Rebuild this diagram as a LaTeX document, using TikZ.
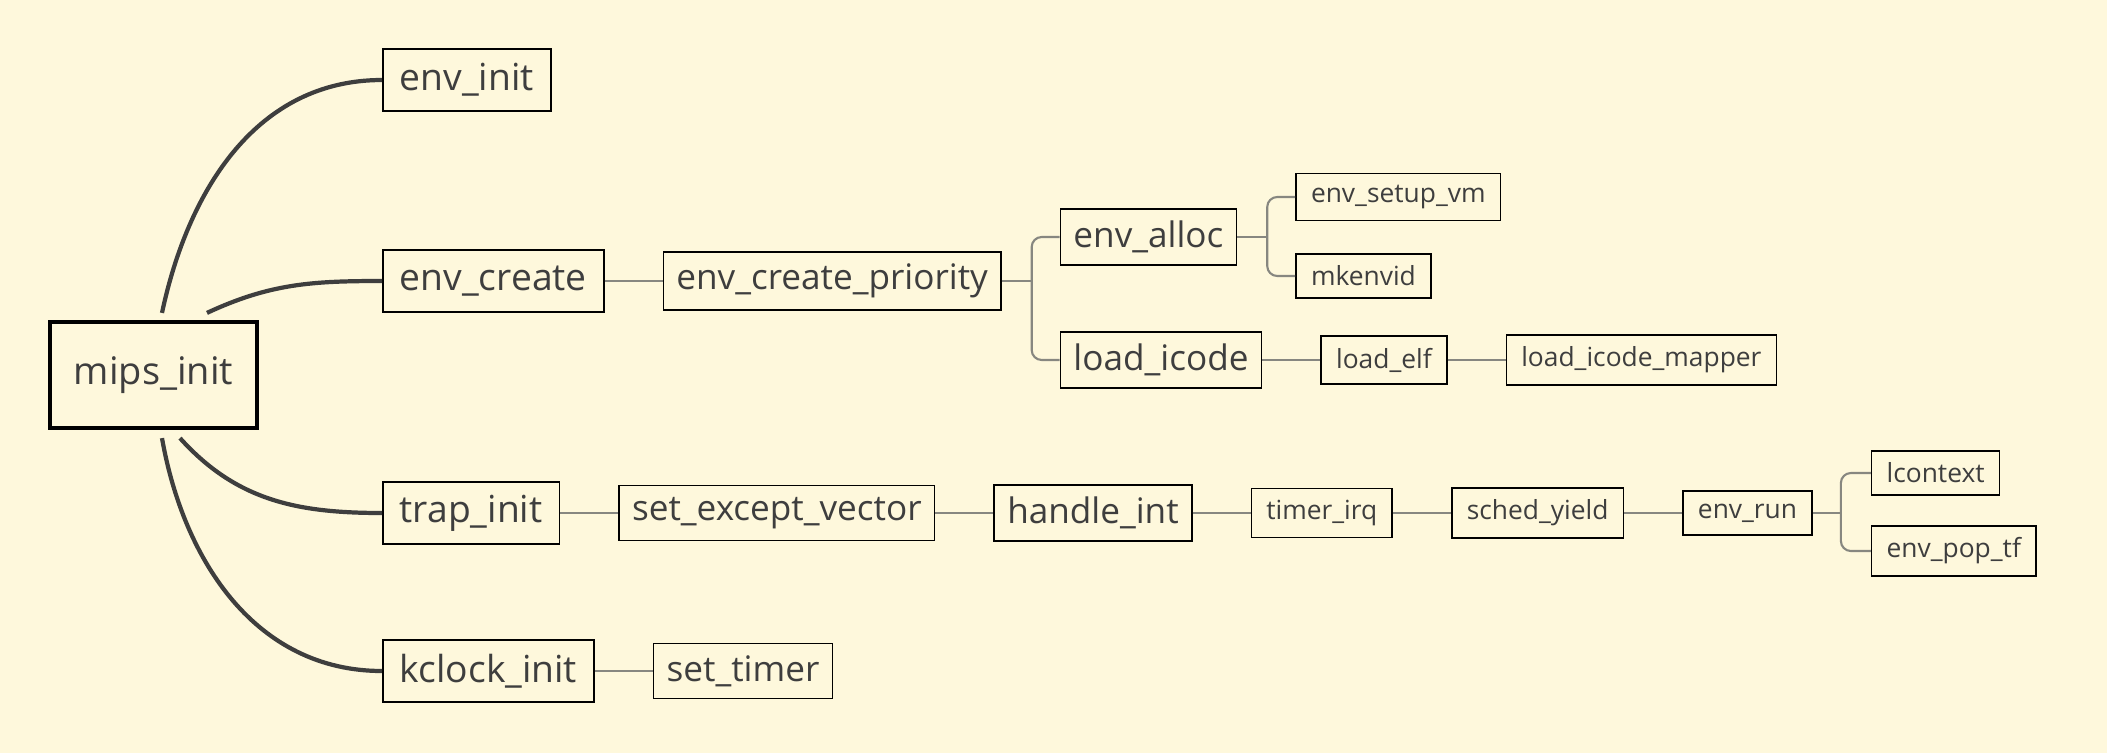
\documentclass[tikz,border=0pt]{standalone}
\usepackage{fontspec}
\setmainfont{Open Sans}
\usetikzlibrary{positioning}
\definecolor{paper}{RGB}{254,248,220}
\definecolor{ink}{RGB}{62,62,62}
\definecolor{twiggray}{RGB}{135,135,128}

\begin{document}
\begin{tikzpicture}[
    node distance=0.58cm,
    root/.style={draw=black, line width=1.2pt, text=ink, font=\fontsize{10.8}{13}\selectfont, minimum width=2.07cm, minimum height=1.06cm},
    topic/.style={draw=black, line width=0.45pt, text=ink, font=\fontsize{10.6}{13}\selectfont, minimum height=0.62cm, inner xsep=0.17cm},
    sub/.style={draw=black, line width=0.45pt, text=ink, font=\fontsize{10}{12}\selectfont, minimum height=0.54cm, inner xsep=0.13cm},
    leaf/.style={draw=black, line width=0.45pt, text=ink, font=\fontsize{7.5}{9}\selectfont, minimum height=0.44cm, inner xsep=0.15cm},
    trunk/.style={draw=ink, line width=1.2pt},
    twig/.style={draw=twiggray, line width=0.6pt, rounded corners=0.1cm}
]
    % paper
    \useasboundingbox (0,0) rectangle (21.07,-7.53);
    \fill[paper] (0,0) rectangle (21.07,-7.53);

    % root and first level
    \node[root] (mips) at (1.535,-3.75) {mips\_init};
    \node[topic, anchor=west] (einit) at (3.82,-0.80) {env\_init};
    \node[topic, anchor=west] (ecreate) at (3.82,-2.81) {env\_create};
    \node[topic, anchor=west] (trap) at (3.82,-5.13) {trap\_init};
    \node[topic, anchor=west] (kclock) at (3.82,-6.71) {kclock\_init};

    \draw[trunk] ([xshift=0.085cm, yshift=0.07cm]mips.north) to[out=78, in=180] (einit.west);
    \draw[trunk] ([xshift=0.535cm, yshift=0.07cm]mips.north) to[out=25, in=180] (ecreate.west);
    \draw[trunk] ([xshift=0.265cm, yshift=-0.08cm]mips.south) to[out=-48, in=180] (trap.west);
    \draw[trunk] ([xshift=0.085cm, yshift=-0.08cm]mips.south) to[out=-80, in=180] (kclock.west);

    % env_create branch
    \node[sub, right=of ecreate] (prio) {env\_create\_priority};
    \node[sub, right=of prio, yshift=0.44cm] (alloc) {env\_alloc};
    \node[sub, right=of prio, yshift=-0.79cm] (icode) {load\_icode};
    \node[leaf, right=of alloc, yshift=0.40cm] (setupvm) {env\_setup\_vm};
    \node[leaf, right=of alloc, yshift=-0.39cm] (mkenvid) {mkenvid};
    \node[leaf, right=of icode] (elf) {load\_elf};
    \node[leaf, right=of elf] (mapper) {load\_icode\_mapper};

    \draw[twig] (ecreate) -- (prio);
    \draw[twig] (prio.east) -- ++(0.3,0) coordinate (fkprio);
    \draw[twig] (alloc.west) -| (fkprio) |- (icode.west);
    \draw[twig] (alloc.east) -- ++(0.3,0) coordinate (fkalloc);
    \draw[twig] (setupvm.west) -| (fkalloc) |- (mkenvid.west);
    \draw[twig] (icode) -- (elf);
    \draw[twig] (elf) -- (mapper);

    % trap_init branch
    \node[sub, right=of trap] (except) {set\_except\_vector};
    \node[sub, right=of except] (hint) {handle\_int};
    \node[leaf, right=of hint] (irq) {timer\_irq};
    \node[leaf, right=of irq] (yield) {sched\_yield};
    \node[leaf, right=of yield] (run) {env\_run};
    \node[leaf, right=of run, yshift=0.40cm] (lctx) {lcontext};
    \node[leaf, right=of run, yshift=-0.38cm] (poptf) {env\_pop\_tf};

    \draw[twig] (trap) -- (except);
    \draw[twig] (except) -- (hint);
    \draw[twig] (hint) -- (irq);
    \draw[twig] (irq) -- (yield);
    \draw[twig] (yield) -- (run);
    \draw[twig] (run.east) -- ++(0.28,0) coordinate (fkrun);
    \draw[twig] (lctx.west) -| (fkrun) |- (poptf.west);

    % kclock_init branch
    \node[sub, right=of kclock] (timer) {set\_timer};
    \draw[twig] (kclock) -- (timer);
\end{tikzpicture}
\end{document}
